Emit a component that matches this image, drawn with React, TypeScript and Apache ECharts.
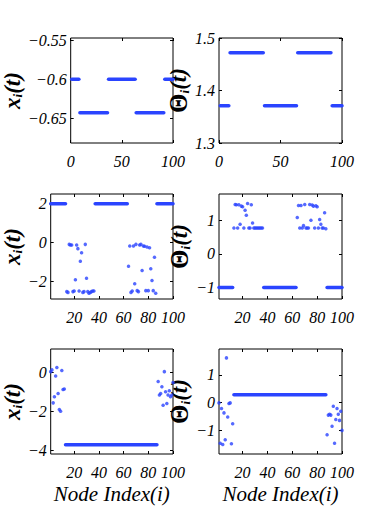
import React, { useEffect, useRef } from "react";
import * as echarts from "echarts";

// ---------- data (node index, value) ----------
// flat runs: [firstIndex, lastIndex, value]
const topLeftRuns = [[1, 8, -0.6], [9, 36, -0.643], [37, 63, -0.6], [64, 91, -0.643], [92, 100, -0.6]];
const topRightRuns = [[1, 8, 1.371], [9, 36, 1.472], [37, 63, 1.371], [64, 91, 1.472], [92, 100, 1.371]];
const midLeftRuns = [[1, 13, 2], [37, 63, 2], [87, 100, 2]];
const midRightRuns = [[1, 12, -1], [37, 63, -1], [88, 100, -1]];
const botLeftRuns = [[13, 87, -3.71]];
const botRightRuns = [[13, 87, 0.28]];

const midLeftPoints = [
  [14, -2.52], [15, -2.56], [16, -0.09], [17, -0.12], [18, -0.12], [19, -2.52], [20, -2.49], [21, -1.91],
  [22, -0.12], [23, -0.31], [24, -2.49], [25, -0.96], [26, -0.52], [27, -2.56], [28, -2.52], [29, -0.09],
  [30, -1.83], [31, -2.52], [32, -2.6], [33, -2.57], [34, -2.52], [35, -2.49], [36, -2.49],
  [64, -1.22], [65, -0.17], [66, -2.56], [67, -2.49], [68, -0.17], [69, -2.12], [70, -0.09], [71, -2.47],
  [72, -2.52], [73, -0.12], [74, -0.09], [75, -1.43], [76, -0.17], [77, -0.19], [78, -2.47], [79, -0.23],
  [80, -2.47], [81, -0.26], [82, -1.34], [83, -1.95], [84, -2.47], [85, -0.75], [86, -2.6],
];
const midRightPoints = [
  [13, 0.77], [14, 1.47], [15, 1.46], [16, 0.77], [17, 1.46], [18, 0.88], [19, 1.42], [20, 1.4],
  [21, 0.77], [22, 1.3], [23, 1.15], [24, 1.5], [25, 0.77], [26, 0.77], [27, 1.46], [28, 0.92],
  [29, 0.77], [30, 0.77], [31, 0.77], [32, 0.77], [33, 0.77], [34, 0.77], [35, 0.77], [36, 0.77],
  [64, 1.08], [65, 1.44], [66, 0.77], [67, 1.44], [68, 0.77], [69, 0.84], [70, 1.47], [71, 0.77],
  [72, 0.77], [73, 0.77], [74, 1.47], [75, 1.0], [76, 1.45], [77, 1.42], [78, 0.77], [79, 1.43],
  [80, 1.4], [81, 0.77], [82, 1.02], [83, 0.88], [84, 0.77], [85, 0.77], [86, 1.22], [87, 0.75],
];
const botLeftPoints = [
  [1, 0.03], [2, 0.12], [3, -1.57], [4, -1.26], [5, -0.19], [6, 0.24], [7, -1.09], [8, -1.91],
  [9, -2.0], [10, 0.09], [11, -0.88], [12, -0.86],
  [88, -0.48], [89, -1.17], [90, -1.09], [91, -0.74], [92, -1.69], [93, 0.03], [94, -1.0], [95, -1.6],
  [96, -1.17], [97, -0.95], [98, -1.26], [99, -1.17], [100, -0.53],
];
const botRightPoints = [
  [1, -0.01], [2, -1.46], [3, -0.21], [4, -1.51], [5, -0.37], [6, -1.34], [7, 1.61], [8, -0.52],
  [9, -0.03], [10, -0.01], [11, -1.48], [12, -0.76],
  [88, -1.16], [89, -0.45], [90, -0.42], [91, -0.45], [92, -0.85], [93, -0.13], [94, -1.46], [95, -0.61],
  [96, -0.21], [97, -0.42], [98, -0.64], [99, -0.31], [100, -1.0],
];

// ---------- axes ----------
const topXTicks = [0, 50, 100];
const lowXTicks = [20, 40, 60, 80, 100];
const topLeftYTicks = [-0.65, -0.6, -0.55];
const topRightYTicks = [1.3, 1.4, 1.5];
const midLeftYTicks = [-2, 0, 2];
const midRightYTicks = [-1, 0, 1];
const botLeftYTicks = [-4, -2, 0];
const botRightYTicks = [-1, 0, 1];

const xLabel = "Node Index(i)";

const BLUE = "#2a44ff";
const SERIF = "Liberation Serif";

type Panel = {
  left: number; top: number;
  xMin: number; xMax: number; xTicks: number[];
  yMin: number; yMax: number; yTicks: number[];
  isTheta: boolean; xName: boolean;
  runs: number[][]; points: number[][];
};

const W = 123;
const H = 105;

const panels: Panel[] = [
  { left: 50, top: 38, xMin: 0, xMax: 100, xTicks: topXTicks, yMin: -0.682, yMax: -0.547, yTicks: topLeftYTicks, isTheta: false, xName: false, runs: topLeftRuns, points: [] },
  { left: 219, top: 38, xMin: 0, xMax: 100, xTicks: topXTicks, yMin: 1.3, yMax: 1.5, yTicks: topRightYTicks, isTheta: true, xName: false, runs: topRightRuns, points: [] },
  { left: 50, top: 194, xMin: 1, xMax: 100, xTicks: lowXTicks, yMin: -2.9, yMax: 2.5, yTicks: midLeftYTicks, isTheta: false, xName: false, runs: midLeftRuns, points: midLeftPoints },
  { left: 219, top: 194, xMin: 1, xMax: 100, xTicks: lowXTicks, yMin: -1.34, yMax: 1.78, yTicks: midRightYTicks, isTheta: true, xName: false, runs: midRightRuns, points: midRightPoints },
  { left: 50, top: 349, xMin: 1, xMax: 100, xTicks: lowXTicks, yMin: -4.19, yMax: 1.19, yTicks: botLeftYTicks, isTheta: false, xName: true, runs: botLeftRuns, points: botLeftPoints },
  { left: 219, top: 349, xMin: 1, xMax: 100, xTicks: lowXTicks, yMin: -1.85, yMax: 1.93, yTicks: botRightYTicks, isTheta: true, xName: true, runs: botRightRuns, points: botRightPoints },
];

const fmt = (v: number) => String(v).replace("-", "\u2212");

function buildOption() {
  const grid: any[] = [];
  const xAxis: any[] = [];
  const yAxis: any[] = [];
  const series: any[] = [];
  panels.forEach((p, i) => {
    grid.push({ left: p.left, top: p.top, width: W, height: H, show: true, borderColor: "#000", borderWidth: 1, backgroundColor: "#fff" });
    const tickStyle = { show: true, inside: true, length: 3, lineStyle: { color: "#000", width: 1 } };
    const noLine = { show: false, onZero: false };
    // bottom x
    xAxis.push({
      type: "value", gridIndex: i, min: p.xMin, max: p.xMax, position: "bottom",
      axisLine: noLine, splitLine: { show: false },
      axisTick: { ...tickStyle, customValues: p.xTicks },
      axisLabel: { customValues: p.xTicks, formatter: fmt, margin: 10, color: "#000", fontFamily: SERIF, fontStyle: "italic", fontSize: 16 },
      name: p.xName ? xLabel : "", nameLocation: "middle", nameGap: 29,
      nameTextStyle: { fontFamily: SERIF, fontStyle: "italic", fontSize: 21, color: "#000" },
    });
    // top x (mirror ticks)
    xAxis.push({
      type: "value", gridIndex: i, min: p.xMin, max: p.xMax, position: "top",
      axisLine: noLine, splitLine: { show: false },
      axisTick: { ...tickStyle, customValues: p.xTicks }, axisLabel: { show: false },
    });
    const rich = {
      a: { fontFamily: SERIF, fontStyle: "italic", fontWeight: "bold", fontSize: 23, color: "#000" },
      th: { fontFamily: SERIF, fontWeight: "bold", fontSize: 25, color: "#000" },
      s: { fontFamily: SERIF, fontStyle: "italic", fontWeight: "bold", fontSize: 13, color: "#000", verticalAlign: "bottom", padding: [10, 0, 0, 0] },
    };
    yAxis.push({
      type: "value", gridIndex: i, min: p.yMin, max: p.yMax, position: "left",
      axisLine: noLine, splitLine: { show: false },
      axisTick: { ...tickStyle, customValues: p.yTicks },
      axisLabel: { customValues: p.yTicks, formatter: fmt, margin: 4, color: "#000", fontFamily: SERIF, fontStyle: "italic", fontSize: 16 },
      name: p.isTheta ? "{th|Θ}{s|i}{a|(t)}" : "{a|x}{s|i}{a|(t)}",
      nameLocation: "middle", nameRotate: 90, nameGap: p.isTheta ? 19 : 26,
      nameTextStyle: { rich },
    });
    yAxis.push({
      type: "value", gridIndex: i, min: p.yMin, max: p.yMax, position: "right",
      axisLine: noLine, splitLine: { show: false },
      axisTick: { ...tickStyle, customValues: p.yTicks }, axisLabel: { show: false },
    });
    p.runs.forEach(([s, e, v]) => {
      series.push({
        type: "line", xAxisIndex: 2 * i, yAxisIndex: 2 * i, data: [[s, v], [e, v]],
        symbol: "none", lineStyle: { color: BLUE, width: 3.5, cap: "round" }, silent: true,
      });
    });
    if (p.points.length) {
      series.push({
        type: "scatter", xAxisIndex: 2 * i, yAxisIndex: 2 * i, data: p.points,
        symbol: "circle", symbolSize: 3.5, itemStyle: { color: BLUE }, silent: true,
      });
    }
  });
  return { animation: false, backgroundColor: "#fff", grid, xAxis, yAxis, series };
}

export default function App() {
  const ref = useRef<HTMLDivElement>(null);
  useEffect(() => {
    if (!ref.current) return;
    const chart = echarts.init(ref.current, undefined, { renderer: "svg" });
    chart.setOption(buildOption() as any);
    return () => chart.dispose();
  }, []);
  return <div ref={ref} style={{ position: "fixed", left: 0, top: 0, width: 382, height: 518, background: "#fff" }} />;
}
